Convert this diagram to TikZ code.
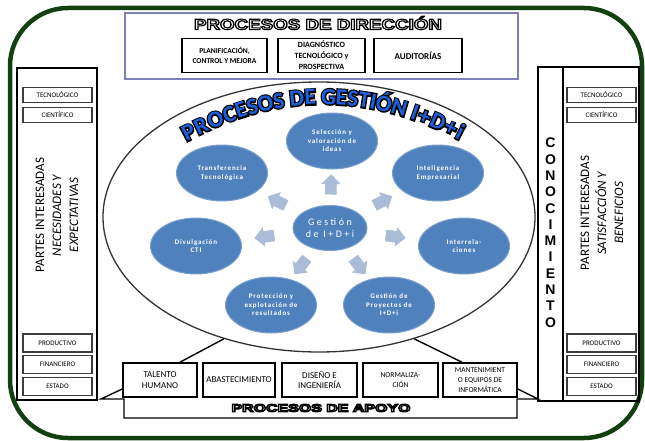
\documentclass[tikz,border=0pt]{standalone}
\usepackage{fontspec}
\setmainfont{Carlito}
\newfontfamily\arialfont{Liberation Sans}
\newfontfamily\circfont[LetterSpace=12]{Carlito}
\newfontfamily\centrofont[LetterSpace=25]{Carlito}
\usetikzlibrary{shapes.geometric,shapes.arrows}

\definecolor{verde}{RGB}{18,64,14}
\definecolor{azulc}{RGB}{79,129,189}
\definecolor{flechac}{RGB}{170,188,216}
\definecolor{lila}{RGB}{128,128,184}
\definecolor{azult}{RGB}{28,96,220}
\definecolor{grisb}{RGB}{60,60,60}

% 描边字
\newcommand\trazo[1]{\special{pdf:literal direct #1}}
\newcommand\hueco[1]{{\color{white}\trazo{2 Tr 1.1 w 0 0 0 RG}#1\trazo{0 Tr 0.4 w}}}
\newcommand\azulletra[1]{\rlap{\color{black}\trazo{1 Tr 2.8 w}#1\trazo{0 Tr 0.4 w}}{\color{azult}#1}}

\tikzset{
  caja/.style={draw=black, line width=1.6pt, align=center, inner sep=1pt, minimum height=34pt},
  cajita/.style={draw=grisb, line width=1.6pt, minimum width=69pt, minimum height=15pt, inner sep=0pt, font=\fontsize{7}{8}\selectfont},
  circ/.style={ellipse, fill=azulc, draw=azulc!75!white, line width=1pt, minimum width=91pt, minimum height=56pt, inner sep=0pt, text=white, align=center, font=\circfont\bfseries\fontsize{7}{8.5}\selectfont},
  flecha/.style={single arrow, fill=flechac, text=flechac, single arrow head extend=4pt, inner sep=0pt, sloped, allow upside down},
  letra/.style={font=\bfseries\fontsize{23}{23}\selectfont, inner sep=0pt, anchor=base, sloped},
  marco/.style={draw=black, line width=1.4pt},
  linea/.style={draw=black, line width=1.4pt}
}

\begin{document}
\begin{tikzpicture}[x=1pt,y=-1pt]
    \useasboundingbox (0,0) rectangle (645,441);
    %外框
    \draw[verde, line width=4.5pt, rounded corners=58pt] (10,8) rectangle (642,438);
    %大椭圆
    \node[ellipse, draw=black!80, line width=1.3pt, minimum width=432pt, minimum height=270pt, inner sep=0pt] (gi) at (319,217) {};
    %标题 PROCESOS DE GESTIÓN I+D+i
    \foreach \p/\c [count=\i] in {0.022/P,0.067/R,0.118/O,0.168/C,0.210/E,0.250/S,0.297/O,0.344/S,
        0.409/D,0.456/E,0.522/G,0.568/E,0.608/S,0.649/T,0.681/I,0.719/Ó,0.774/N,
        0.830/I,0.864/+,0.912/D,0.959/+,0.992/i}
        \path (186,142) .. controls (277,92) and (368,92) .. (459,140)
            node[letra, pos=\p] (l\i) {\azulletra{\c}};
    %上方：PROCESOS DE DIRECCIÓN
    \draw[lila, line width=1.5pt] (125,13) rectangle (518,79);
    \node (tdir) at (318,23) {\scalebox{1.25}[1]{\arialfont\bfseries\fontsize{15}{15}\selectfont\hueco{PROCESOS DE DIRECCIÓN}}};
    \node[caja, minimum width=85pt, font=\bfseries\fontsize{7.5}{10}\selectfont] (planif) at (224.5,55.5) {PLANIFICACIÓN,\\CONTROL Y MEJORA};
    \node[caja, minimum width=87pt, font=\bfseries\fontsize{8}{11}\selectfont] (diag) at (321.5,55.5) {DIAGNÓSTICO\\TECNOLÓGICO y\\PROSPECTIVA};
    \node[caja, minimum width=88pt, font=\bfseries\fontsize{9}{11}\selectfont] (audit) at (418,55.5) {AUDITORÍAS};
    %左右两侧
    \draw[marco] (17,68) rectangle (97,400);
    \draw[marco] (538,67) rectangle (639,401);
    \draw[marco] (563,67) -- (563,401);
    \foreach \t/\y [count=\i] in {TECNOLÓGICO/95,CIENTÍFICO/115}
    {
        \node[cajita] (izqa\i) at (57.5,\y) {\t};
        \node[cajita] (dera\i) at (601.5,\y) {\t};
    };
    \foreach \t/\y [count=\i] in {PRODUCTIVO/343,FINANCIERO/364.5,ESTADO/386.5}
    {
        \node[cajita, minimum height=18pt] (izqb\i) at (57.5,\y) {\t};
        \node[cajita, minimum height=18pt] (derb\i) at (601.5,\y) {\t};
    };
    \node[rotate=90, align=center, font=\fontsize{13}{17}\selectfont] (partesizq) at (57,215)
        {PARTES INTERESADAS\\\textit{NECESIDADES Y}\\\textit{EXPECTATIVAS}};
    \node[rotate=90, align=center, font=\fontsize{13}{17}\selectfont] (partesder) at (602,213)
        {PARTES INTERESADAS\\\textit{SATISFACCIÓN Y}\\\textit{BENEFICIOS}};
    %CONOCIMIENTO 竖排
    \foreach \l [count=\i from 0] in {C,O,N,O,C,I,M,I,E,N,T,O}
        \node[font=\arialfont\bfseries\fontsize{14}{14}\selectfont, inner sep=0pt] (k\i) at (550.5,143+16.3*\i) {\l};
    %中心和七个圆
    \node[circ, minimum width=74pt, minimum height=45pt, font=\centrofont\fontsize{10}{12.5}\selectfont] (centro) at (330,228) {Gestión\\de I+D+i};
    \node[circ] (sel) at (332,141) {Selección y\\valoración de\\ideas};
    \node[circ] (intel) at (438,173) {Inteligencia\\Empresarial};
    \node[circ] (inter) at (464,246) {Interrela-\\ciones};
    \node[circ] (proy) at (389,305) {Gestión de\\Proyectos de\\I+D+i};
    \node[circ] (prot) at (271,305) {Protección y\\explotación de\\resultados};
    \node[circ] (div) at (196,246) {Divulgación\\CTI};
    \node[circ] (trans) at (222,173) {Transferencia\\Tecnológica};
    %箭头
    \foreach \d in {sel,intel,inter,proy,prot,div,trans}
        \path (centro) -- node[flecha] (f\d) {\rule[-5.5pt]{14pt}{11pt}} (\d);
    %下方：PROCESOS DE APOYO
    \node[caja, minimum width=74pt, font=\fontsize{9}{10.5}\selectfont] (talento) at (160,380) {TALENTO\\HUMANO};
    \node[caja, minimum width=72pt, font=\fontsize{9}{10.5}\selectfont] (abast) at (239,380) {ABASTECIMIENTO};
    \node[caja, minimum width=75pt, font=\fontsize{9}{10.5}\selectfont] (diseno) at (319.5,380) {DISEÑO E\\INGENIERÍA};
    \node[caja, minimum width=75pt, font=\fontsize{7.5}{10}\selectfont] (normal) at (400.5,380) {NORMALIZA-\\CIÓN};
    \node[caja, minimum width=74pt, font=\fontsize{7.5}{10}\selectfont] (mant) at (480,380) {MANTENIMIENT\\O EQUIPOS DE\\INFORMÁTICA};
    \coordinate (pizq) at (101,399);
    \coordinate (pder) at (538,399);
    \draw[linea] ([yshift=-9pt]talento.west) -- (pizq) -- (124,399) -- (124,418) -- (517,418) -- (517,399) -- (pder) -- ([yshift=-9pt]mant.east);
    \node (tapoyo) at (321,408) {\scalebox{1.45}[1]{\arialfont\bfseries\fontsize{11}{11}\selectfont\hueco{PROCESOS DE APOYO}}};
    %椭圆到下方的连线
    \draw[linea] (gi.232) -- ([xshift=20pt]talento.north);
    \draw[linea] (gi.308) -- ([xshift=-18pt]mant.north);
\end{tikzpicture}
\end{document}
